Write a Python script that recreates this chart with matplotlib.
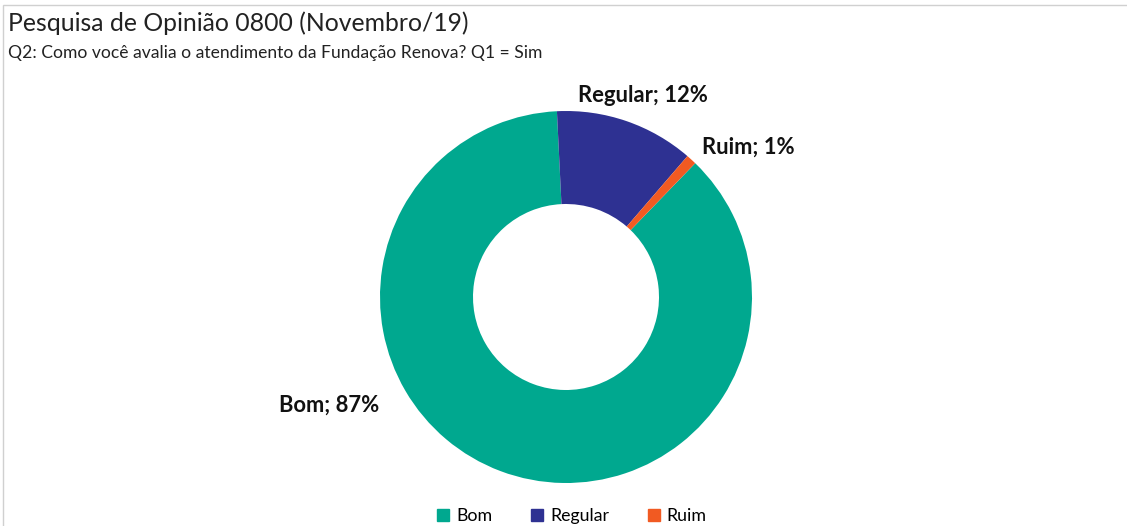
import numpy as np
import matplotlib.pyplot as plt
from matplotlib.patches import Rectangle

plt.rcParams['font.family'] = ['Lato', 'DejaVu Sans']

categories = ['Bom', 'Regular', 'Ruim']
values = [87.0, 12.1, 0.9]
label_texts = ['Bom; 87%', 'Regular; 12%', 'Ruim; 1%']
colors = ['#00A88F', '#2E3192', '#F15A22']

fig = plt.figure(figsize=(11.27, 5.26), dpi=100)

# light frame like the exported chart area
fig.patches.append(Rectangle((3 / 1127, -0.01), 1.1, 1 - 5 / 526 + 0.01,
                             transform=fig.transFigure, fill=False,
                             edgecolor='#d0d0d0', linewidth=1))

fig.text(8 / 1127, 1 - 23 / 526, 'Pesquisa de Opinião 0800 (Novembro/19)',
         fontsize=17.8, va='center', ha='left', color='#222222')
fig.text(8 / 1127, 1 - 53 / 526, 'Q2: Como você avalia o atendimento da Fundação Renova? Q1 = Sim',
         fontsize=12.6, va='center', ha='left', color='#222222')

ax = fig.add_axes([(566 - 186) / 1127, (526 - 297 - 186) / 526, 372 / 1127, 372 / 526])
wedges, _ = ax.pie(values, colors=colors, startangle=46, counterclock=False,
                   radius=1.0, wedgeprops=dict(width=0.5, linewidth=0))
ax.set_xlim(-1, 1)
ax.set_ylim(-1, 1)
ax.set_aspect('equal')

# label positions: (angle from 12 o'clock clockwise, distance in radii)
label_pos = [(245.4, 1.40), (20.9, 1.16), (50.7, 1.27)]
for txt, (ang, dist) in zip(label_texts, label_pos):
    a = np.deg2rad(ang)
    ax.text(dist * np.sin(a), dist * np.cos(a), txt, ha='center', va='center',
            fontsize=15.8, fontweight='bold', color='#111111', clip_on=False)

handles = [Rectangle((0, 0), 1, 1, color=c) for c in colors]
fig.legend(handles, categories, loc='center', bbox_to_anchor=(572 / 1127, 1 - 516 / 526),
           ncol=3, frameon=False, fontsize=12.8, handlelength=0.65, handleheight=0.65,
           columnspacing=2.2, handletextpad=0.4)

fig.savefig('out.png', dpi=100)
